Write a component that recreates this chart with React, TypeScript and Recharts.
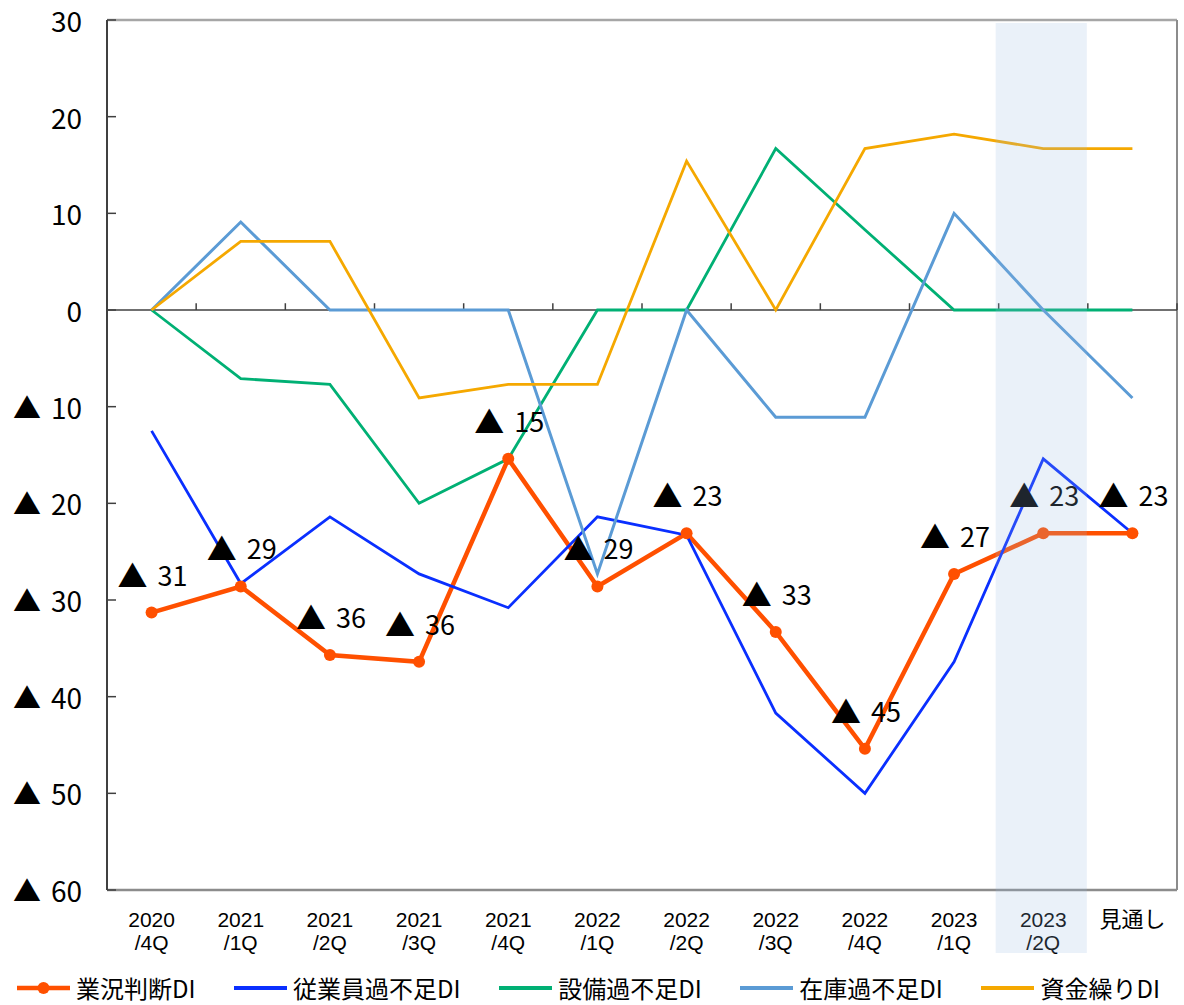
import React from 'react';
import {
  LineChart,
  Line,
  XAxis,
  YAxis,
  ReferenceLine,
  ReferenceArea,
  LabelList,
  Legend,
} from 'recharts';

// ---- data ----
const categories = [
  '2020/4Q', '2021/1Q', '2021/2Q', '2021/3Q', '2021/4Q', '2022/1Q',
  '2022/2Q', '2022/3Q', '2022/4Q', '2023/1Q', '2023/2Q', '見通し',
];
const gyokyoDI = [-31.3, -28.6, -35.7, -36.4, -15.4, -28.6, -23.1, -33.3, -45.4, -27.3, -23.1, -23.1];
const jugyoinDI = [-12.5, -28.3, -21.4, -27.3, -30.8, -21.4, -23.3, -41.7, -50.0, -36.4, -15.4, -23.1];
const setsubiDI = [0, -7.1, -7.7, -20.0, -15.4, 0, 0, 16.7, 8.3, 0, 0, 0];
const zaikoDI = [0, 9.1, 0, 0, 0, -27.3, 0, -11.1, -11.1, 10.0, 0, -9.1];
const shikinDI = [0, 7.1, 7.1, -9.1, -7.7, -7.7, 15.4, 0, 16.7, 18.2, 16.7, 16.7];
const yTicks = [30, 20, 10, 0, -10, -20, -30, -40, -50, -60];
const boundaryTicks = [1, 2, 3, 4, 5, 6, 7, 8, 9, 10, 11, 12];
const highlightIndex = 10;

const seriesDefs = [
  { key: 'gyokyo', name: '業況判断DI', color: '#FF5000', width: 4.5, dot: true },
  { key: 'jugyoin', name: '従業員過不足DI', color: '#0A2FFF', width: 2.8, dot: false },
  { key: 'setsubi', name: '設備過不足DI', color: '#00B074', width: 2.8, dot: false },
  { key: 'zaiko', name: '在庫過不足DI', color: '#5B9BD5', width: 3, dot: false },
  { key: 'shikin', name: '資金繰りDI', color: '#F5A800', width: 2.8, dot: false },
];

const data = categories.map((cat, i) => ({
  cat,
  slot: i,
  gyokyo: gyokyoDI[i],
  jugyoin: jugyoinDI[i],
  setsubi: setsubiDI[i],
  zaiko: zaikoDI[i],
  shikin: shikinDI[i],
}));

const FONT = '"Noto Sans CJK JP", "Noto Sans", sans-serif';
const TICK_FONT = '"Liberation Sans", "Noto Sans CJK JP", sans-serif';
const W = 1184;
const H = 1005;
const Y_AXIS_W = 107;
const RIGHT_M = 7;
const PLOT_W = W - Y_AXIS_W - RIGHT_M;
const PAD = PLOT_W / (categories.length * 2);

const TriNum = ({ v, tri, num }: { v: number; tri: number; num: number }) =>
  v < 0 ? (
    <>
      <tspan fontSize={tri} fontFamily={FONT}>▲</tspan>
      <tspan fontSize={num} dx={10}>{Math.round(-v)}</tspan>
    </>
  ) : (
    <tspan fontSize={num}>{Math.round(v)}</tspan>
  );

const YTick = (props: any) => {
  const { x, y, payload } = props;
  return (
    <g>
      <line x1={x} x2={x + 9} y1={y} y2={y} stroke="#404040" strokeWidth={1.5} />
      <text
        x={x - 25}
        y={y}
        textAnchor="end"
        dominantBaseline="central"
        fontFamily={FONT}
        fill="#000"
      >
        <TriNum v={payload.value} tri={28} num={28} />
      </text>
    </g>
  );
};

const XTick = (props: any) => {
  const { x, y, payload } = props;
  const s = String(payload.value);
  const idx = s.indexOf('/');
  const lines = idx >= 0 ? [s.slice(0, idx), s.slice(idx)] : [s];
  return (
    <g>
      {lines.map((t, i) => (
        <text
          key={i}
          x={x}
          y={y + 29.5 + i * 23}
          textAnchor="middle"
          dominantBaseline="central"
          fontSize={idx >= 0 ? 21 : 22}
          fontFamily={TICK_FONT}
          fill="#000"
        >
          {t}
        </text>
      ))}
    </g>
  );
};

const PointLabel = (props: any) => {
  const x = props.x ?? props.viewBox?.x;
  const y = props.y ?? props.viewBox?.y;
  const { value } = props;
  if (x == null || y == null) return null;
  return (
    <text
      x={x + 1}
      y={y - 39}
      textAnchor="middle"
      dominantBaseline="central"
      fontFamily={FONT}
      fill="#000"
    >
      <TriNum v={Number(value)} tri={30} num={27} />
    </text>
  );
};

const BandShape = (props: any) => {
  const { x, y, width, height } = props;
  return (
    <rect
      x={x - 3}
      y={y + 3}
      width={width + 2}
      height={height + 60}
      fill="#96B9E1"
      fillOpacity={0.2}
    />
  );
};

const LegendContent = () => (
  <div
    style={{
      display: 'flex',
      justifyContent: 'space-between',
      alignItems: 'center',
      height: 35,
      marginLeft: 17,
      width: 1143,
      fontSize: 24,
      fontFamily: FONT,
      color: '#000',
    }}
  >
    {seriesDefs.map((s) => (
      <div key={s.key} style={{ display: 'flex', alignItems: 'center' }}>
        <svg width={53} height={20} style={{ display: 'block' }}>
          <line x1={0} x2={53} y1={10} y2={10} stroke={s.color} strokeWidth={s.dot ? 4.5 : 4} />
          {s.dot && <circle cx={26.5} cy={10} r={6} fill={s.color} />}
        </svg>
        <span style={{ marginLeft: 6, whiteSpace: 'nowrap', lineHeight: '35px' }}>{s.name}</span>
      </div>
    ))}
  </div>
);

export default function App() {
  return (
    <div style={{ position: 'absolute', left: 0, top: 0, width: W, height: H, background: '#fff' }}>
      <LineChart
        width={W}
        height={H}
        data={data}
        margin={{ top: 20, right: RIGHT_M, left: 0, bottom: 0 }}
        style={{ fontFamily: FONT }}
      >
        <XAxis
          dataKey="cat"
          interval={0}
          padding={{ left: PAD, right: PAD }}
          tickLine={false}
          tickSize={0}
          tickMargin={0}
          axisLine={{ stroke: '#8C8C8C', strokeWidth: 2.5 }}
          height={80}
          tick={<XTick />}
        />
        <XAxis
          xAxisId="num"
          dataKey="slot"
          type="number"
          domain={[0, categories.length]}
          allowDataOverflow
          hide
        />
        <YAxis
          domain={[-60, 30]}
          ticks={yTicks}
          interval={0}
          width={Y_AXIS_W}
          tickLine={false}
          tickSize={0}
          tickMargin={0}
          axisLine={{ stroke: '#404040', strokeWidth: 2 }}
          tick={<YTick />}
          allowDataOverflow
        />
        <ReferenceLine y={30} stroke="#A6A6A6" strokeWidth={2.5} />
        <ReferenceLine xAxisId="num" x={categories.length} stroke="#8C8C8C" strokeWidth={2} ifOverflow="visible" />
        <ReferenceLine y={0} stroke="#404040" strokeWidth={1.5} />
        {boundaryTicks.map((b) => (
          <ReferenceLine
            key={b}
            xAxisId="num"
            segment={[{ x: b, y: 0 }, { x: b, y: 0.7 }]}
            stroke="#404040"
            strokeWidth={1.5}
            ifOverflow="visible"
          />
        ))}
        {seriesDefs.map((s) => (
          <Line
            key={s.key}
            type="linear"
            dataKey={s.key}
            name={s.name}
            stroke={s.color}
            strokeWidth={s.width}
            dot={s.dot ? { r: 6, fill: s.color, stroke: 'none' } : false}
            activeDot={false}
            isAnimationActive={false}
          >
            {s.dot && <LabelList dataKey={s.key} content={<PointLabel />} />}
          </Line>
        ))}
        <Legend
          verticalAlign="bottom"
          content={<LegendContent />}
          wrapperStyle={{ left: 0, bottom: 0, width: W, height: 35 }}
        />
        <ReferenceArea
          xAxisId="num"
          x1={highlightIndex}
          x2={highlightIndex + 1}
          y1={-60}
          y2={30}
          shape={<BandShape />}
          zIndex={2500}
        />
      </LineChart>
    </div>
  );
}
